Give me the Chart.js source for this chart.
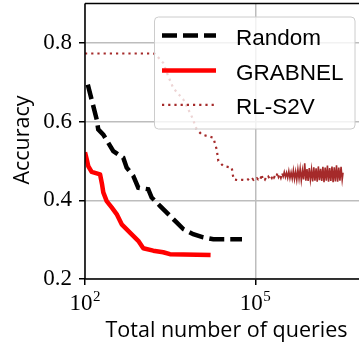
<!DOCTYPE html>
<html lang="en">
<head>
  <meta charset="UTF-8">
  <title>Accuracy vs queries</title>
  <script src="https://cdn.jsdelivr.net/npm/chart.js"></script>
  <style>
    body {
      margin: 0;
      background: #fff;
    }
    canvas {
      display: block;
    }
  </style>
</head>
<body>
  <canvas id="chart" width="359" height="345"></canvas>

  <script>
    // data
    const randomX = [112, 161, 171, 210, 257, 315, 472, 542, 708, 867, 1300, 1493, 2089, 2930, 4110, 5380, 8070, 12100, 18200, 58300];
    const randomY = [0.694, 0.605, 0.580, 0.567, 0.546, 0.525, 0.508, 0.483, 0.462, 0.432, 0.428, 0.407, 0.386, 0.365, 0.344, 0.327, 0.314, 0.306, 0.301, 0.301];

    const grabnelX = [100, 107, 114, 131, 184, 200, 210, 241, 295, 361, 443, 619, 867, 1062, 1592, 2387, 3130, 16300];
    const grabnelY = [0.522, 0.505, 0.487, 0.472, 0.466, 0.440, 0.420, 0.398, 0.382, 0.365, 0.339, 0.318, 0.297, 0.278, 0.272, 0.268, 0.263, 0.261];

    const rlX = [100, 1580, 1710, 2390, 2930, 3590, 5400, 7590, 9290, 11400, 18200, 20900, 22300, 27300, 38400, 40000, 41500, 50000, 60000,
      70795, 74131, 77625, 81283, 85114, 89125, 93325, 97724, 102329, 107152,
      112202, 117490, 123027, 128825, 134896, 141254, 147911, 154882, 162181, 169824,
      177828, 186209, 194984, 204174, 213796, 223872, 234423, 245471, 257040, 269153,
      281838, 295121, 309030, 323594, 338844, 354813, 371535, 389045, 407380, 426580,
      446684, 467735, 489779, 512861, 537032, 562341, 588844, 616595, 645654, 676083,
      707946, 741310, 776247, 812831, 851138, 891251, 933254, 977237, 1023293, 1071519,
      1122018, 1174898, 1230269, 1288250, 1348963, 1412538, 1479108, 1548817, 1621810, 1698244,
      1778279, 1862087, 1949845, 2041738, 2137962, 2238721, 2344229, 2454709, 2570396, 2691535,
      2818383, 2951209, 3090295, 3235937, 3388442, 3507519];
    const rlY = [0.773, 0.773, 0.772, 0.749, 0.715, 0.685, 0.656, 0.613, 0.580, 0.567, 0.559, 0.529, 0.500, 0.487, 0.483, 0.466, 0.453, 0.451, 0.452,
      0.451, 0.453, 0.450, 0.452, 0.451, 0.454, 0.452, 0.455, 0.453, 0.456,
      0.453, 0.455, 0.452, 0.466, 0.454, 0.457, 0.453, 0.458, 0.455, 0.460,
      0.456, 0.462, 0.457, 0.464, 0.458, 0.463, 0.459, 0.470, 0.460, 0.466,
      0.458, 0.468, 0.460, 0.472, 0.459, 0.470, 0.457, 0.474, 0.456, 0.471,
      0.455, 0.476, 0.454, 0.473, 0.452, 0.478, 0.455, 0.480, 0.451, 0.476,
      0.453, 0.494, 0.450, 0.479, 0.449, 0.482, 0.452, 0.478, 0.448, 0.484,
      0.450, 0.481, 0.447, 0.486, 0.451, 0.480, 0.449, 0.485, 0.446, 0.483,
      0.450, 0.488, 0.447, 0.482, 0.449, 0.486, 0.446, 0.484, 0.448, 0.489,
      0.447, 0.483, 0.450, 0.485, 0.452, 0.470];
    // from this point on the RL-S2V trace is so dense it reads as a solid band
    const rlDenseFrom = 50;

    const yTicks = [0.2, 0.4, 0.6, 0.8];
    const xTicks = [100, 100000];
    const xExp = ['2', '5'];

    const pts = (xs, ys) => xs.map((x, i) => ({ x: x, y: ys[i] }));

    // frame, tick labels, titles and legend drawn on the canvas
    const decor = {
      id: 'decor',
      afterDatasetsDraw(chart) {
        const ctx = chart.ctx;
        const a = chart.chartArea;
        ctx.save();
        ctx.strokeStyle = '#000';
        ctx.lineWidth = 1.5;
        ctx.beginPath();
        ctx.moveTo(a.left, a.top);
        ctx.lineTo(a.right, a.top);
        ctx.moveTo(a.left, a.top);
        ctx.lineTo(a.left, a.bottom);
        ctx.lineTo(a.right, a.bottom);
        ctx.stroke();

        // legend box
        ctx.beginPath();
        ctx.roundRect(154.5, 17, 200.5, 112, 4);
        ctx.fillStyle = 'rgba(255,255,255,0.8)';
        ctx.fill();
        ctx.strokeStyle = '#cccccc';
        ctx.lineWidth = 1;
        ctx.stroke();

        const rows = [45, 80, 114.3];
        ctx.font = '22.5px "Liberation Sans"';
        ctx.textBaseline = 'alphabetic';
        ctx.textAlign = 'left';
        chart.data.datasets.forEach((ds, i) => {
          const y = rows[i] - 9.5;
          ctx.beginPath();
          ctx.strokeStyle = ds.borderColor;
          ctx.lineWidth = ds.borderWidth;
          ctx.setLineDash(ds.borderDash || []);
          ctx.lineCap = 'butt';
          ctx.moveTo(162, y);
          ctx.lineTo(216, y);
          ctx.stroke();
          ctx.setLineDash([]);
          ctx.fillStyle = '#000';
          ctx.fillText(ds.label, 236, rows[i]);
        });
        ctx.restore();
      },
      afterDraw(chart) {
        const ctx = chart.ctx;
        const xs = chart.scales.x;
        ctx.save();
        ctx.fillStyle = '#000';
        ctx.textBaseline = 'alphabetic';
        xTicks.forEach((v, i) => {
          const px = xs.getPixelForValue(v);
          ctx.font = '23px "Liberation Serif"';
          const w1 = ctx.measureText('10').width;
          ctx.font = '15px "Liberation Serif"';
          const w2 = ctx.measureText(xExp[i]).width;
          const x0 = px - (w1 + w2 + 0.5) / 2;
          ctx.font = '23px "Liberation Serif"';
          ctx.textAlign = 'left';
          ctx.fillText('10', x0, 310);
          ctx.font = '15px "Liberation Serif"';
          ctx.fillText(xExp[i], x0 + w1 + 0.5, 300.5);
        });

        ctx.font = '21.5px "Open Sans"';
        ctx.textAlign = 'center';
        ctx.fillText('Total number of queries', 226.5, 336.7);

        ctx.translate(28.6, 140);
        ctx.rotate(-Math.PI / 2);
        ctx.fillText('Accuracy', 0, 0);
        ctx.restore();
      }
    };

    new Chart(document.getElementById('chart'), {
      type: 'line',
      data: {
        datasets: [{
          label: 'Random',
          data: pts(randomX, randomY),
          borderColor: '#000000',
          borderWidth: 4.5,
          borderDash: [15, 6],
          pointRadius: 0,
          tension: 0,
          fill: false
        }, {
          label: 'GRABNEL',
          data: pts(grabnelX, grabnelY),
          borderColor: '#ff0000',
          borderWidth: 4.5,
          borderJoinStyle: 'round',
          pointRadius: 0,
          tension: 0,
          fill: false
        }, {
          label: 'RL-S2V',
          data: pts(rlX, rlY),
          borderColor: '#a52a2a',
          borderWidth: 2.2,
          borderDash: [2.2, 4],
          segment: {
            borderDash: c => (c.p0DataIndex >= rlDenseFrom ? [] : undefined),
            borderWidth: c => (c.p0DataIndex >= rlDenseFrom ? 1.6 : undefined)
          },
          pointRadius: 0,
          tension: 0,
          fill: false
        }]
      },
      options: {
        responsive: false,
        animation: false,
        devicePixelRatio: 1,
        layout: {
          padding: { top: 3.5, right: 0, bottom: 0, left: 0 }
        },
        plugins: {
          legend: { display: false },
          tooltip: { enabled: false }
        },
        scales: {
          x: {
            type: 'logarithmic',
            min: 100,
            max: 6.7e6,
            afterFit: s => { s.height = 66; s.paddingLeft = 0; s.paddingRight = 0; },
            afterBuildTicks: s => { s.ticks = xTicks.map(v => ({ value: v })); },
            border: { display: false },
            grid: {
              color: '#bdbdbd',
              lineWidth: 1.5,
              drawTicks: true,
              tickLength: 6,
              tickColor: '#000',
              tickWidth: 1.5
            },
            ticks: { display: false }
          },
          y: {
            min: 0.2,
            max: 0.9,
            afterFit: s => { s.width = 85; s.paddingTop = 0; s.paddingBottom = 0; },
            afterBuildTicks: s => { s.ticks = yTicks.map(v => ({ value: v })); },
            border: { display: false },
            grid: {
              color: '#bdbdbd',
              lineWidth: 1.5,
              drawTicks: true,
              tickLength: 6,
              tickColor: '#000',
              tickWidth: 1.5
            },
            ticks: {
              color: '#000',
              padding: 7,
              font: { family: 'Liberation Serif', size: 23 },
              callback: v => v.toFixed(1)
            }
          }
        }
      },
      plugins: [decor]
    });
  </script>
</body>
</html>
